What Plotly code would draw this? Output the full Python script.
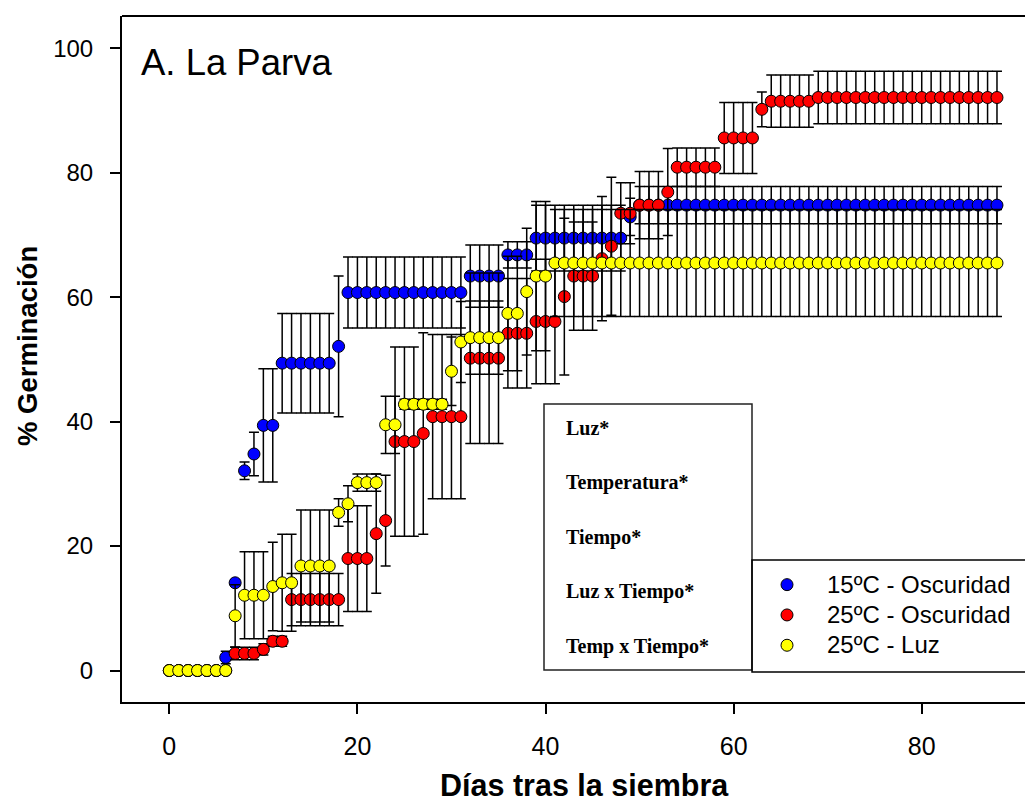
import plotly.graph_objects as go

# ---------------- data ----------------
days = list(range(0, 89))

def runs(pairs):
    out = []
    for v, n in pairs:
        out += [v] * n
    return out

blue_vals = runs([(0, 6), (2.1, 1), (14.1, 1), (32.1, 1), (34.8, 1), (39.4, 2), (49.4, 6),
                  (52.1, 1), (60.75, 13), (63.4, 4), (66.8, 3), (69.5, 10), (72.9, 1), (74.8, 39)])
blue_err = runs([(0, 6), (1.0, 1), (0.5, 1), (1.4, 1), (3.5, 1), (9.1, 2), (8.0, 6),
                 (11.3, 1), (5.7, 13), (5.0, 4), (2.1, 3), (5.3, 10), (3.0, 1), (3.0, 39)])

red_vals = runs([(0, 7), (2.75, 3), (3.4, 1), (4.7, 2), (11.4, 6), (18.0, 3), (22.0, 1), (24.1, 1),
                 (36.8, 3), (38.1, 1), (40.8, 4), (50.2, 4), (54.2, 3), (56.1, 3), (60.1, 1),
                 (63.4, 3), (66.2, 1), (68.2, 1), (73.5, 2), (74.8, 3), (76.9, 1), (80.9, 5),
                 (85.6, 4), (90.2, 1), (91.5, 5), (92.1, 20)])
red_err = runs([(0, 7), (1.0, 3), (0.9, 1), (0.8, 2), (4.2, 6), (8.5, 3), (9.6, 1), (7.3, 1),
                (15.2, 3), (16.2, 1), (13.2, 4), (13.7, 4), (8.8, 3), (10.0, 3), (12.6, 1),
                (8.7, 3), (10.0, 1), (11.1, 1), (4.9, 2), (5.4, 3), (7.0, 1), (3.1, 5),
                (5.7, 4), (2.8, 1), (4.2, 5), (4.2, 20)])

yellow_vals = runs([(0, 7), (8.8, 1), (12.1, 3), (13.5, 1), (14.1, 2), (16.8, 4), (25.4, 1),
                    (26.8, 1), (30.2, 3), (39.5, 2), (42.8, 5), (48.1, 1), (52.8, 1), (53.5, 4),
                    (57.4, 2), (60.9, 1), (63.4, 2), (65.5, 48)])
yellow_err = runs([(0, 7), (5.0, 1), (7.0, 3), (7.1, 1), (7.8, 2), (9.0, 4), (2.2, 1),
                   (2.9, 1), (1.4, 3), (4.6, 2), (0.8, 5), (5.5, 1), (6.5, 1), (5.9, 4),
                   (9.2, 2), (10.2, 1), (12.0, 2), (8.6, 48)])

series_names = ["15ºC - Oscuridad", "25ºC - Oscuridad", "25ºC - Luz"]
series_colors = ["#0000FF", "#FF0000", "#FFFF00"]

x_ticks = [0, 20, 40, 60, 80]
y_ticks = [0, 20, 40, 60, 80, 100]

stats_labels = ["Luz*", "Temperatura*", "Tiempo*", "Luz x Tiempo*", "Temp x Tiempo*"]

# ---------------- figure ----------------
OFF = 8                      # page body margin of the written html
W, H = 1025, 793
L, R, T, B = 114, 0, 8, 99
PW, PH = W - L - R, H - T - B

def px_x(x):                 # reference pixel -> paper coordinate
    return (x - OFF - L) / PW

def px_y(y):
    return (H - B - (y - OFF)) / PH

fig = go.Figure()
for vals, errs, name, col in zip([blue_vals, red_vals, yellow_vals],
                                  [blue_err, red_err, yellow_err],
                                  series_names, series_colors):
    fig.add_trace(go.Scatter(
        x=days, y=vals, mode="markers",
        name='<span style="font-size:24px">' + name + '</span>',
        marker=dict(color=col, size=12, line=dict(color="black", width=1)),
        error_y=dict(type="data", array=errs, symmetric=True, color="black",
                     thickness=1.5, width=5),
    ))

arial = "Liberation Sans, Arial, sans-serif"
serif = "Liberation Serif, Times New Roman, serif"

fig.update_layout(
    width=W, height=H,
    margin=dict(l=L, r=R, t=T, b=B, pad=0),
    paper_bgcolor="white", plot_bgcolor="white",
    showlegend=True,
    legend=dict(x=px_x(747), y=px_y(564.5), xanchor="left", yanchor="top",
                font=dict(family=arial, size=21, color="black"),
                bgcolor="rgba(0,0,0,0)", borderwidth=0, itemwidth=70,
                tracegroupgap=0),
    xaxis=dict(range=[-5.03, 91.83], tickvals=x_ticks, ticks="outside", ticklen=10,
               tickwidth=1.5, tickcolor="black", showline=True, linecolor="black",
               linewidth=2, showgrid=False, zeroline=False, ticklabelstandoff=11,
               tickfont=dict(family=arial, size=25, color="black")),
    yaxis=dict(range=[-5.06, 105.2], tickvals=y_ticks, ticks="outside", ticklen=10,
               tickwidth=1.5, tickcolor="black", showline=True, linecolor="black",
               linewidth=2, showgrid=False, zeroline=False, ticklabelstandoff=12,
               tickfont=dict(family=arial, size=24, color="black")),
)

shapes = [
    # top frame line (the right side of the frame is outside the picture)
    dict(type="line", xref="paper", yref="paper", x0=0, x1=1, y0=1, y1=1,
         line=dict(color="black", width=2)),
    # statistics box
    dict(type="rect", xref="paper", yref="paper", x0=px_x(544), x1=px_x(752),
         y0=px_y(670), y1=px_y(404), line=dict(color="#222222", width=1.5),
         fillcolor="white", layer="above"),
    # legend box
    dict(type="rect", xref="paper", yref="paper", x0=px_x(752), x1=px_x(1026),
         y0=px_y(672), y1=px_y(560), line=dict(color="black", width=1.5),
         fillcolor="rgba(255,255,255,0)", layer="above"),
]
fig.update_layout(shapes=shapes)

annotations = [
    dict(text="A. La Parva", xref="paper", yref="paper", x=px_x(139), y=px_y(63),
         xanchor="left", yanchor="middle", showarrow=False,
         font=dict(family=arial, size=36.5, color="black")),
    dict(text="<b>Días tras la siembra</b>", xref="paper", yref="paper",
         x=px_x(584), y=px_y(785), xanchor="center", yanchor="middle", showarrow=False,
         font=dict(family=arial, size=30.5, color="black")),
    dict(text="<b>% Germinación</b>", xref="paper", yref="paper",
         x=px_x(27), y=px_y(346), xanchor="center", yanchor="middle", showarrow=False,
         textangle=-90, font=dict(family=arial, size=27.5, color="black")),
]
stat_y = [428, 482, 537, 591, 646]
for lab, yy in zip(stats_labels, stat_y):
    annotations.append(dict(text="<b>" + lab + "</b>", xref="paper", yref="paper",
                            x=px_x(564), y=px_y(yy), xanchor="left", yanchor="middle",
                            showarrow=False,
                            font=dict(family=serif, size=20, color="black")))
fig.update_layout(annotations=annotations)

fig.write_html("out.html")
